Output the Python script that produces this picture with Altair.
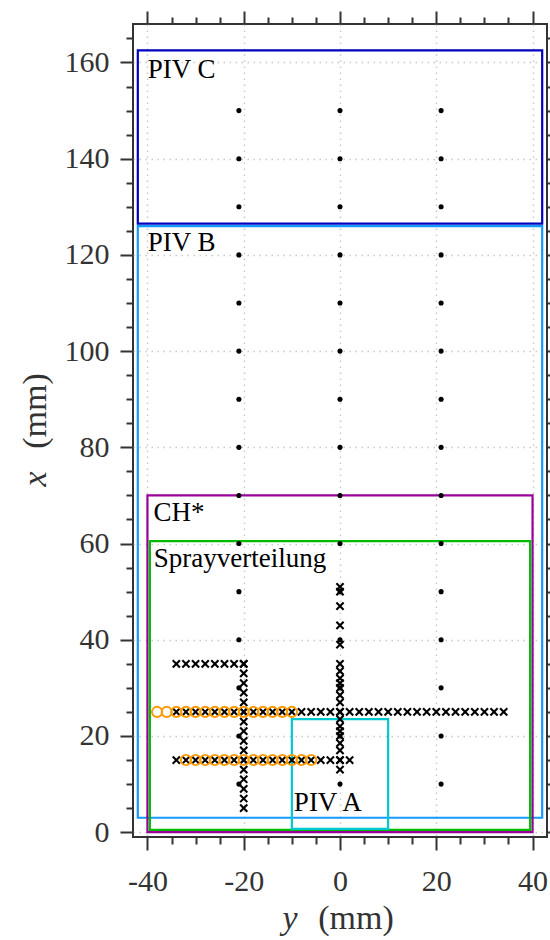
import altair as alt
import pandas as pd

# ---------------------------------------------------------------
# Measurement positions (mm); horizontal axis = y, vertical axis = x
# ---------------------------------------------------------------

# PIV probe grid (black dots)
probe_y = [-21, 0, 21]
probe_x = [10, 20, 30, 40, 50, 60, 70, 80, 90, 100, 110, 120, 130, 140, 150]

# traverse points (crosses)
row35_y = [-34, -32, -30, -28, -26, -24, -22, -20]
row25_y = [-34, -32, -30, -28, -26, -24, -22, -20, -18, -16, -14, -12, -10, -8,
           -6, -4, -2, 0, 2, 4, 6, 8, 10, 12, 14, 16, 18, 20, 22, 24, 26, 28,
           30, 32, 34]
row15_y = [-34, -32, -30, -28, -26, -24, -22, -20, -18, -16, -14, -12, -10, -8,
           -6, -4, -2, 0, 2]
col_m20_x = [5, 7, 9, 11, 13, 15, 17, 19, 21, 23, 25, 27, 29, 31, 33, 35]
col_0_x = [51, 50, 47, 43, 39, 35, 33.5, 32, 31, 30, 28.5, 27, 25, 23.5, 22,
           21, 20, 18.5, 17, 15, 13]

# spray points (orange open circles)
circ25_y = [-38, -36, -34, -32, -30, -28, -26, -24, -22, -20, -18, -16, -14,
            -12, -10]
circ15_y = [-32, -30, -28, -26, -24, -22, -20, -18, -16, -14, -12, -10, -8, -6]

# measurement windows
box_names = ["PIV C", "PIV B", "CH*", "Sprayverteilung", "PIV A"]
box_y_lo = [-42, -42, -40, -39.5, -10]
box_y_hi = [42, 42, 40, 39.5, 10]
box_x_lo = [126.5, 3, 0, 0.5, 0.7]
box_x_hi = [162.5, 126, 70, 60.5, 23.5]

# tick positions
y_ticks = [-40, -35, -30, -25, -20, -15, -10, -5, 0, 5, 10, 15, 20, 25, 30, 35, 40]
x_ticks = [0, 5, 10, 15, 20, 25, 30, 35, 40, 45, 50, 55, 60, 65, 70, 75, 80, 85,
           90, 95, 100, 105, 110, 115, 120, 125, 130, 135, 140, 145, 150, 155,
           160, 165]

# ---------------------------------------------------------------
# tables
# ---------------------------------------------------------------
dots = pd.DataFrame(
    [(yy, xx) for yy in probe_y for xx in probe_x], columns=["y_mm", "x_mm"]
)
crosses = pd.DataFrame(
    [(yy, 35) for yy in row35_y]
    + [(yy, 25) for yy in row25_y]
    + [(yy, 15) for yy in row15_y]
    + [(-20, xx) for xx in col_m20_x]
    + [(0, xx) for xx in col_0_x],
    columns=["y_mm", "x_mm"],
)
circles = pd.DataFrame(
    [(yy, 25) for yy in circ25_y] + [(yy, 15) for yy in circ15_y],
    columns=["y_mm", "x_mm"],
)
boxes = pd.DataFrame(
    {"name": box_names, "y_lo": box_y_lo, "y_hi": box_y_hi,
     "x_lo": box_x_lo, "x_hi": box_x_hi}
)

# ---------------------------------------------------------------
# styling
# ---------------------------------------------------------------
FONT = "Liberation Serif"
INK = "#333333"
MAJOR = "datum.value % 20 === 0"
box_palette = ["#0000c0", "#1499ff", "#990099", "#00bb00", "#00c8d0"]

X_SCALE = alt.Scale(domain=[-43, 43], nice=False, zero=False)
Y_SCALE = alt.Scale(domain=[-1, 168], nice=False, zero=False)


def make_axis(orient, ticks, main, pad=10):
    kw = dict(
        orient=orient, values=ticks, title=None, domain=False,
        tickColor=INK, tickWidth=2,
        tickSize={"condition": {"test": MAJOR, "value": 13}, "value": 7},
        labels=main, grid=main,
    )
    if main:
        kw.update(
            labelExpr=f"{MAJOR} ? '' + datum.value : ''",
            labelFont=FONT, labelFontSize=30, labelColor=INK,
            labelFlush=False, labelOverlap=False, labelPadding=pad,
            gridColor="#c8c8c8", gridDash=[1.5, 4.5], gridWidth=1.4,
            gridOpacity={"condition": {"test": MAJOR, "value": 1}, "value": 0},
        )
    return alt.Axis(**kw)


# windows (rectangles) carry the bottom / left axes
rects = alt.Chart(boxes).mark_rect(fill="transparent", strokeWidth=2.2).encode(
    x=alt.X("y_lo:Q", scale=X_SCALE, axis=make_axis("bottom", y_ticks, True, 16)),
    x2="y_hi:Q",
    y=alt.Y("x_lo:Q", scale=Y_SCALE, axis=make_axis("left", x_ticks, True, 11)),
    y2="x_hi:Q",
    stroke=alt.Color("name:N", scale=alt.Scale(domain=box_names, range=box_palette),
                     legend=None),
)

# probe grid carries the mirrored top / right ticks
dot_layer = alt.Chart(dots).mark_point(
    shape="circle", filled=True, size=26, color="black", opacity=1
).encode(
    x=alt.X("y_mm:Q", scale=X_SCALE, axis=make_axis("top", y_ticks, False)),
    y=alt.Y("x_mm:Q", scale=Y_SCALE, axis=make_axis("right", x_ticks, False)),
)

cross_layer = alt.Chart(crosses).mark_point(
    shape="M-1,-1L1,1M-1,1L1,-1", filled=False, size=52, stroke="black",
    strokeWidth=2.1, opacity=1,
).encode(
    x=alt.X("y_mm:Q", scale=X_SCALE, axis=None),
    y=alt.Y("x_mm:Q", scale=Y_SCALE, axis=None),
)

circle_layer = alt.Chart(circles).mark_point(
    shape="circle", filled=False, size=105, stroke="#ff9900", strokeWidth=1.9,
    opacity=1,
).encode(
    x=alt.X("y_mm:Q", scale=X_SCALE, axis=None),
    y=alt.Y("x_mm:Q", scale=Y_SCALE, axis=None),
)

# window captions, anchored at a corner of each window
caption_style = [
    ("PIV C", "x_hi", 10, 28),
    ("PIV B", "x_hi", 10, 25),
    ("CH*", "x_hi", 6, 26),
    ("Sprayverteilung", "x_hi", 4, 26),
    ("PIV A", "x_lo", 2, -18),
]
captions = []
for name, corner, dx, dy in caption_style:
    captions.append(
        alt.Chart(boxes).transform_filter(alt.datum.name == name)
        .mark_text(align="left", baseline="alphabetic", dx=dx, dy=dy,
                   font=FONT, fontSize=27, color="black")
        .encode(
            x=alt.X("y_lo:Q", scale=X_SCALE, axis=None),
            y=alt.Y(f"{corner}:Q", scale=Y_SCALE, axis=None),
            text="name:N",
        )
    )

# axis titles with an italic variable name
def title_piece(text, px, py, italic, angle=0, baseline="alphabetic"):
    return alt.Chart(pd.DataFrame({"t": [text]})).mark_text(
        font=FONT, fontSize=34, color=INK, align="center", baseline=baseline,
        fontStyle="italic" if italic else "normal", angle=angle,
    ).encode(x=alt.value(px), y=alt.value(py), text="t:N")


titles = [
    title_piece("y", 157, 905, True),
    title_piece("(mm)", 223, 905, False),
    title_piece("x", -97, 455, True, 270, "middle"),
    title_piece("(mm)", -97, 387, False, 270, "middle"),
]

chart = (
    alt.layer(rects, dot_layer, cross_layer, circle_layer, *captions, *titles)
    .resolve_axis(x="independent", y="independent")
    .properties(
        width=414, height=813,
        autosize=alt.AutoSizeParams(type="none"),
        padding={"left": 133, "top": 24, "right": 3, "bottom": 103},
        background="white",
    )
    .configure_view(stroke=INK, strokeWidth=2)
)

chart.save("out.html", embed_options={"renderer": "svg", "actions": False})
